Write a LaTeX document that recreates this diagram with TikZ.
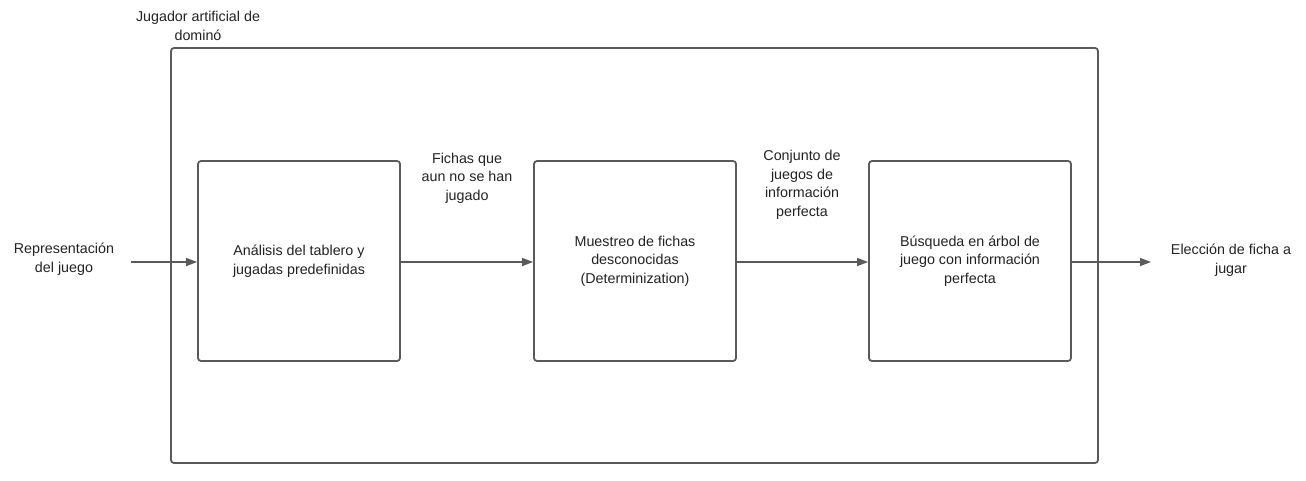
\documentclass[tikz,border=0pt]{standalone}
\usepackage{fontspec}
\setmainfont{Liberation Sans}
\usepackage{tikz}
\usepackage{xcolor}
\usetikzlibrary{shapes.geometric, arrows.meta, positioning, fit, calc}
\definecolor{linegray}{HTML}{5A5A5A}
\definecolor{textgray}{HTML}{222222}

\begin{document}
\begin{tikzpicture}[
            x=1pt, y=-1pt,
            every node/.style={font=\fontsize{14.3}{18.5}\selectfont, text=textgray},
            process/.style={rectangle, rounded corners=3pt, draw=linegray, line width=1.8pt, minimum width=202pt, minimum height=200pt, align=center},
            label/.style={align=center, inner sep=0pt},
            flow/.style={-{Triangle[length=11pt,width=8pt]}, draw=linegray, line width=1.3pt}
        ]
            \useasboundingbox (0,0) rectangle (1306,480);

% Outer frame
            \node[process, minimum width=927pt, minimum height=415pt] (player) at (634.5,255.5) {};
            \node[label] (player_title) at (198,26) {Jugador artificial de\\domin\'o};

% Stages
            \node[process] (analysis) at (299,261) {An\'alisis del tablero y\\jugadas predefinidas};
            \node[process] (sampling) at (635,261) {Muestreo de fichas\\desconocidas\\(Determinization)};
            \node[process] (search) at (970,261) {B\'usqueda en \'arbol de\\juego con informaci\'on\\perfecta};

% Input and output
            \node[label] (input) at (64,259) {Representaci\'on\\del juego};
            \node[label] (output) at (1231,260) {Elecci\'on de ficha a\\jugar};
            \coordinate (input_end) at (131,262);
            \coordinate (output_end) at (1151,262);

% Edge texts
            \node[label] (unplayed) at (467,178) {Fichas que\\aun no se han\\jugado};
            \node[label] (perfect_games) at (802,185) {Conjunto de\\juegos de\\informaci\'on\\perfecta};

% Arrows
            \draw[flow] (input_end) -- (analysis.west |- input_end);
            \draw[flow] (analysis.east |- input_end) -- (sampling.west |- input_end);
            \draw[flow] (sampling.east |- input_end) -- (search.west |- input_end);
            \draw[flow] (search.east |- output_end) -- (output_end);

        \end{tikzpicture}
\end{document}
